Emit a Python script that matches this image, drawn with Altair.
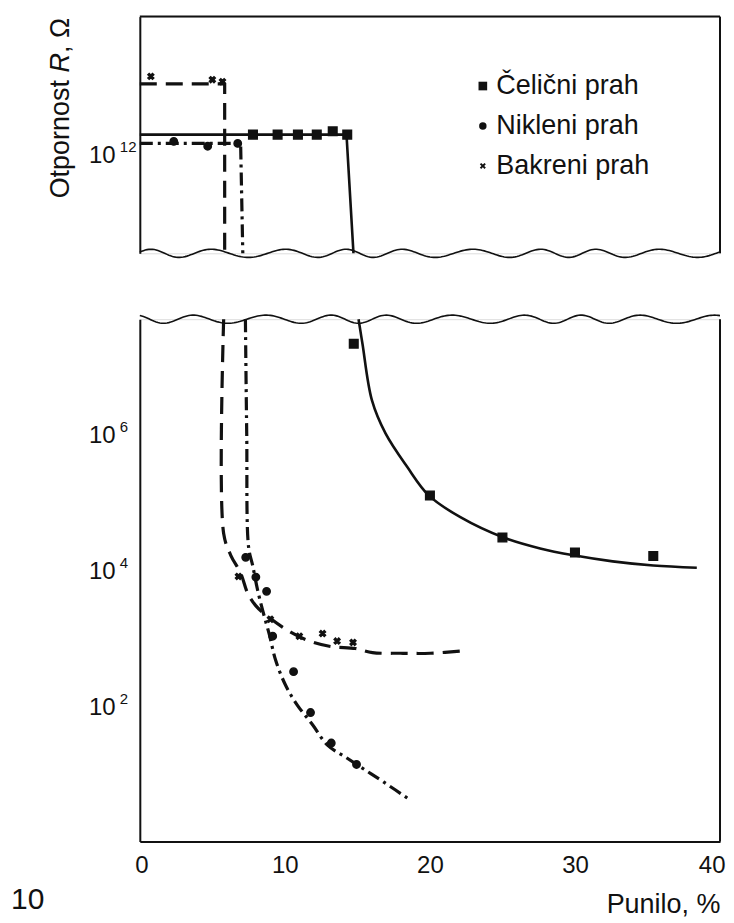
import altair as alt
import numpy as np
import pandas as pd

FONT = "Liberation Sans"
INK = "#111111"
W, H_TOP, H_BOT = 581, 237, 523

series = ["Čelični prah", "Nikleni prah", "Bakreni prah"]
x_ticks = [0, 10, 20, 30, 40]
top_tick_vals = [1e12]
top_tick_exp = ["12"]
bot_tick_vals = [1e2, 1e4, 1e6]
bot_tick_exp = ["2", "4", "6"]

# ---------- upper panel (R around 1e12 .. 1e13) ----------
steel_top_pts_x = [7.8, 9.5, 10.9, 12.2, 13.3, 14.3]
steel_top_pts_y = [2.09e12, 2.09e12, 2.09e12, 2.09e12, 2.34e12, 2.09e12]
nickel_top_pts_x = [2.34, 4.68, 6.75]
nickel_top_pts_y = [1.66e12, 1.41e12, 1.55e12]
copper_top_pts_x = [0.76, 5.0, 5.7]
copper_top_pts_y = [1.51e13, 1.35e13, 1.26e13]

steel_top_line_x = [0, 14.25, 14.73]
steel_top_line_y = [2.09e12, 2.09e12, 3.72e10]
nickel_top_line_x = [0, 6.95, 7.1]
nickel_top_line_y = [1.55e12, 1.55e12, 3.72e10]
copper_top_line_x = [0, 5.85, 5.85]
copper_top_line_y = [1.17e13, 1.17e13, 3.72e10]

# ---------- lower panel ----------
steel_bot_pts_x = [14.75, 20.0, 25.0, 30.0, 35.4]
steel_bot_pts_y = [2.29e7, 1.35e5, 3.24e4, 1.95e4, 1.74e4]
nickel_bot_pts_x = [7.3, 8.0, 8.74, 9.16, 10.6, 11.77, 13.2, 14.94]
nickel_bot_pts_y = [1.66e4, 8.5e3, 5.25e3, 1.15e3, 347, 87, 31, 15]
copper_bot_pts_x = [6.8, 9.0, 11.0, 12.6, 13.6, 14.7]
copper_bot_pts_y = [8.7e3, 2.04e3, 1.15e3, 1.26e3, 977, 933]

steel_bot_line_x = [15.08, 15.35, 16.0, 16.94, 18.43, 19.92, 22.1, 25.08, 27.6, 29.9, 32.6, 35.4, 38.4]
steel_bot_line_y = [5.25e7, 2.29e7, 3.39e6, 1.10e6, 3.55e5, 1.35e5, 6.46e4, 3.24e4, 2.24e4, 1.78e4, 1.45e4, 1.26e4, 1.17e4]
nickel_bot_line_x = [7.28, 7.37, 7.50, 7.78, 8.12, 8.47, 8.95, 9.36, 10.05, 10.88, 11.91, 12.94, 14.2, 15.5, 16.8, 18.66]
nickel_bot_line_y = [5.25e7, 1.10e6, 2.34e4, 1.26e4, 5.5e3, 2.75e3, 1.17e3, 513, 219, 110, 57.5, 28.8, 19.1, 12.6, 8.3, 4.47]
copper_bot_line_x = [5.78, 5.78, 6.27, 6.95, 7.44, 7.99, 8.88, 10.40, 11.57, 13.15, 14.87, 16.04, 17.97, 20.03, 22.44]
copper_bot_line_y = [5.25e7, 3.72e4, 1.78e4, 9.77e3, 4.9e3, 3.24e3, 2.19e3, 1.32e3, 1.0e3, 813, 759, 661, 646, 646, 708]

# ---------- scales / axes ----------
x_scale = alt.Scale(domain=[0, 40], nice=False, zero=False)
y_top_scale = alt.Scale(type="log", domain=[3.72e10, 1.148e14], nice=False)
y_bot_scale = alt.Scale(type="log", domain=[1.107, 5.25e7], nice=False)

y_axis = alt.Axis(domain=True, domainColor=INK, domainWidth=2, ticks=False,
                  labels=False, grid=False, title=None)
x_axis_bot = alt.Axis(values=x_ticks, domain=True, domainColor=INK, domainWidth=2,
                      ticks=False, grid=False, labelFont=FONT, labelFontSize=24,
                      labelColor=INK, labelPadding=12, labelFlush=True,
                      labelFlushOffset=5, format="d",
                      title="Punilo, %", titleFont=FONT, titleFontSize=27,
                      titleFontWeight="normal", titleColor=INK, titleX=W, titleY=71,
                      titleAlign="right", titleBaseline="alphabetic")

X_SHAPE = ("M-1,-0.55L-0.55,-1L0,-0.45L0.55,-1L1,-0.55L0.45,0L1,0.55L0.55,1"
           "L0,0.45L-0.55,1L-1,0.55L-0.45,0Z")

legend_def = alt.Legend(title=None, orient="none", legendX=330, legendY=56,
                        labelFont=FONT, labelFontSize=27, labelColor=INK,
                        labelOffset=0, rowPadding=12, symbolStrokeWidth=1.4,
                        symbolFillColor=INK, symbolStrokeColor=INK)
shape_enc = alt.Shape("series:N", scale=alt.Scale(domain=series,
                      range=["square", "circle", X_SHAPE]), legend=legend_def)
size_enc = alt.Size("series:N", scale=alt.Scale(domain=series, range=[75, 36, 140]),
                    legend=legend_def)

one = pd.DataFrame({"k": [0]})


def line_layer(xs, ys, yscale, xaxis, width, dash=None, interp="linear"):
    df = pd.DataFrame({"x": xs, "y": ys, "i": list(range(len(xs)))})
    kw = dict(color=INK, strokeWidth=width, strokeCap="butt", strokeJoin="round",
              interpolate=interp)
    if dash:
        kw["strokeDash"] = dash
    return alt.Chart(df).mark_line(**kw).encode(
        x=alt.X("x:Q", scale=x_scale, axis=xaxis),
        y=alt.Y("y:Q", scale=yscale, axis=y_axis),
        order="i:Q")


def points_layer(sx, sy, nx, ny, cx, cy, yscale, xaxis):
    df = pd.DataFrame({
        "x": sx + nx + cx,
        "y": sy + ny + cy,
        "series": [series[0]] * len(sx) + [series[1]] * len(nx) + [series[2]] * len(cx),
    })
    return alt.Chart(df).mark_point(filled=True, fill=INK, stroke=INK, strokeWidth=1.4,
                                    opacity=1).encode(
        x=alt.X("x:Q", scale=x_scale, axis=xaxis),
        y=alt.Y("y:Q", scale=yscale, axis=y_axis),
        shape=shape_enc, size=size_enc)


def wave_layer(base_log, phase, yscale, xaxis):
    xs = np.linspace(0, 40, 321)
    s = np.sin(2 * np.pi * xs / 4.4 + phase + 0.6 * np.sin(2 * np.pi * xs / 15.0))
    df = pd.DataFrame({"x": xs, "y": 10 ** (base_log + 0.06 * s), "i": np.arange(len(xs))})
    return alt.Chart(df).mark_line(color=INK, strokeWidth=1.6).encode(
        x=alt.X("x:Q", scale=x_scale, axis=xaxis),
        y=alt.Y("y:Q", scale=yscale, axis=y_axis),
        order="i:Q")


def tick_layers(vals, exps, yscale, xaxis):
    df = pd.DataFrame({"v": vals, "e": exps})
    base = alt.Chart(df).mark_text(text="10", font=FONT, fontSize=24, color=INK,
                                   align="left", baseline="middle").encode(
        x=alt.value(-51), y=alt.Y("v:Q", scale=yscale, axis=y_axis))
    sup = alt.Chart(df).mark_text(font=FONT, fontSize=15, color=INK, align="left",
                                  baseline="middle", dy=-9).encode(
        x=alt.value(-20), y=alt.Y("v:Q", scale=yscale, axis=y_axis), text="e:N")
    return [base, sup]


def rule(**enc):
    return alt.Chart(one).mark_rule(color=INK, strokeWidth=2).encode(**enc)


def label(txt, x, y, size, **kw):
    return alt.Chart(one).mark_text(text=txt, font=FONT, fontSize=size, color=INK,
                                    **kw).encode(x=alt.value(x), y=alt.value(y))


# ---------- top panel ----------
top_layers = [
    rule(x=alt.value(0), x2=alt.value(W), y=alt.value(0)),
    rule(x=alt.value(W), y=alt.value(0), y2=alt.value(H_TOP)),
    line_layer(steel_top_line_x, steel_top_line_y, y_top_scale, None, 2.6),
    line_layer(nickel_top_line_x, nickel_top_line_y, y_top_scale, None, 3.2, [13, 5, 3, 5]),
    line_layer(copper_top_line_x, copper_top_line_y, y_top_scale, None, 3.2, [17, 9]),
    wave_layer(10.57, 0.3, y_top_scale, None),
    points_layer(steel_top_pts_x, steel_top_pts_y, nickel_top_pts_x, nickel_top_pts_y,
                 copper_top_pts_x, copper_top_pts_y, y_top_scale, None),
    *tick_layers(top_tick_vals, top_tick_exp, y_top_scale, None),
    label("Otpornost", -71, 182, 27, angle=270, align="left", baseline="alphabetic"),
    label("R", -71, 55.9, 27, angle=270, align="left", baseline="alphabetic",
          fontStyle="italic"),
    label(", Ω", -71, 36.4, 27, angle=270, align="left", baseline="alphabetic"),
]
top = alt.layer(*top_layers).properties(width=W, height=H_TOP)

# ---------- bottom panel ----------
bot_layers = [
    rule(x=alt.value(W), y=alt.value(0), y2=alt.value(H_BOT)),
    line_layer(steel_bot_line_x, steel_bot_line_y, y_bot_scale, x_axis_bot, 2.6,
               interp="catmull-rom"),
    line_layer(nickel_bot_line_x, nickel_bot_line_y, y_bot_scale, x_axis_bot, 3.2,
               [13, 5, 3, 5], interp="catmull-rom"),
    line_layer(copper_bot_line_x, copper_bot_line_y, y_bot_scale, x_axis_bot, 3.2,
               [17, 9], interp="catmull-rom"),
    wave_layer(7.72, 2.0, y_bot_scale, x_axis_bot),
    points_layer(steel_bot_pts_x, steel_bot_pts_y, nickel_bot_pts_x, nickel_bot_pts_y,
                 copper_bot_pts_x, copper_bot_pts_y, y_bot_scale, x_axis_bot),
    *tick_layers(bot_tick_vals, bot_tick_exp, y_bot_scale, x_axis_bot),
    label("10", -129, 591, 30, align="left", baseline="alphabetic"),
]
bottom = alt.layer(*bot_layers).properties(width=W, height=H_BOT)

chart = (
    alt.vconcat(top, bottom, spacing=50)
    .resolve_scale(y="independent")
    .properties(padding={"left": 2, "top": 6, "right": 0, "bottom": 0})
    .configure_view(stroke=None)
    .configure(font=FONT)
)

chart.save("out.html", embed_options={"renderer": "svg", "actions": False})
